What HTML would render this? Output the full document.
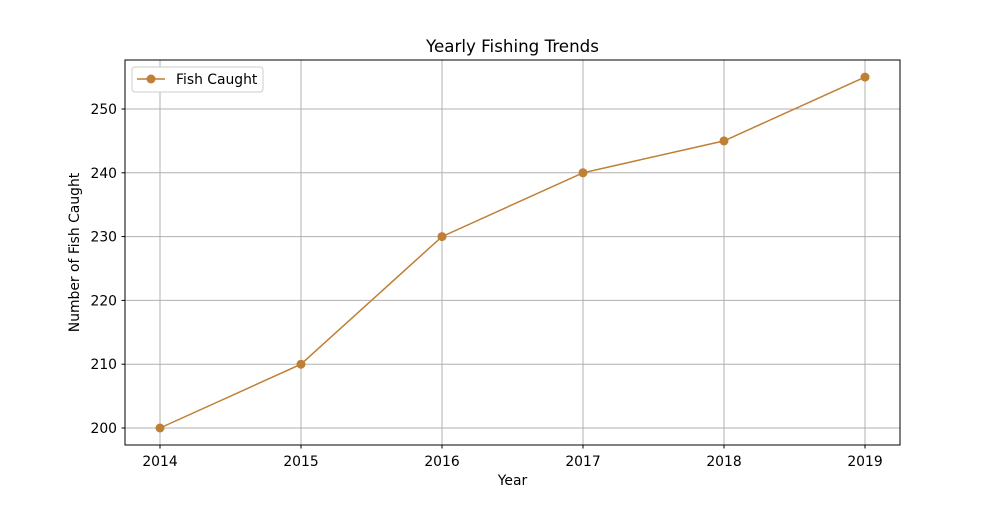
<!DOCTYPE html>
<html><head><meta charset="utf-8"><style>
body{margin:0;background:#fff;}
svg text{font-family:"DejaVu Sans","Liberation Sans",sans-serif;fill:#000;}
</style></head><body>
<svg id="chart" width="1000" height="500" xmlns="http://www.w3.org/2000/svg">
<rect width="1000" height="500" fill="#fff"/>
<g id="grid"></g>
<g id="ticks"></g>
<g id="series"></g>
<rect x="125" y="60" width="775" height="385" fill="none" stroke="#000" stroke-width="1"/>
<text x="512.5" y="52" font-size="16.7" text-anchor="middle">Yearly Fishing Trends</text>
<text x="512.5" y="485" font-size="13.9" text-anchor="middle">Year</text>
<text transform="translate(79,252.5) rotate(-90)" font-size="13.9" text-anchor="middle">Number of Fish Caught</text>
<g>
<rect x="132" y="67" width="131" height="25" rx="3" fill="#fff" stroke="#ccc"/>
<line x1="137" y1="79" x2="165" y2="79" stroke="#bf7f35" stroke-width="1.5"/>
<circle cx="151" cy="79" r="4.5" fill="#bf7f35"/>
<text x="176" y="84" font-size="13.9">Fish Caught</text>
</g>
</svg>
<script>
const years = [2014, 2015, 2016, 2017, 2018, 2019];
const fishCaught = [200, 210, 230, 240, 245, 255];
const yTicks = [200, 210, 220, 230, 240, 250];
const color = '#bf7f35';
const ns = 'http://www.w3.org/2000/svg';
const xs = v => 160 + (v - 2014) * 141;
const ys = v => 428 - (v - 200) * 6.38;
function mk(tag, attrs, parent) {
  const e = document.createElementNS(ns, tag);
  for (const k in attrs) e.setAttribute(k, attrs[k]);
  document.getElementById(parent).appendChild(e);
  return e;
}
years.forEach(y => {
  const g = mk('line', {x1: xs(y), x2: xs(y), y1: 60, y2: 445, stroke: '#b0b0b0', 'stroke-width': 1}, 'grid');
  
  
  const t = mk('line', {x1: xs(y), x2: xs(y), y1: 445, y2: 448.5, stroke: '#000'}, 'ticks');
  
  
  const l = mk('text', {x: xs(y), y: 466, 'font-size': 13.9, 'text-anchor': 'middle'}, 'ticks');
  l.textContent = y;
  
  
});
yTicks.forEach(v => {
  const g = mk('line', {x1: 125, x2: 900, y1: ys(v), y2: ys(v), stroke: '#b0b0b0', 'stroke-width': 1}, 'grid');
  
  
  const t = mk('line', {x1: 121.5, x2: 125, y1: ys(v), y2: ys(v), stroke: '#000'}, 'ticks');
  
  
  const l = mk('text', {x: 117, y: ys(v) + 5, 'font-size': 13.9, 'text-anchor': 'end'}, 'ticks');
  l.textContent = v;
  
  
});
const pts = years.map((y, i) => xs(y) + ',' + ys(fishCaught[i])).join(' ');
const line = mk('polyline', {points: pts, fill: 'none', stroke: color, 'stroke-width': 1.5}, 'series');


years.forEach((y, i) => {
  const c = mk('circle', {cx: xs(y), cy: ys(fishCaught[i]), r: 4.5, fill: color}, 'series');
  
  
});
</script>
</body></html>
